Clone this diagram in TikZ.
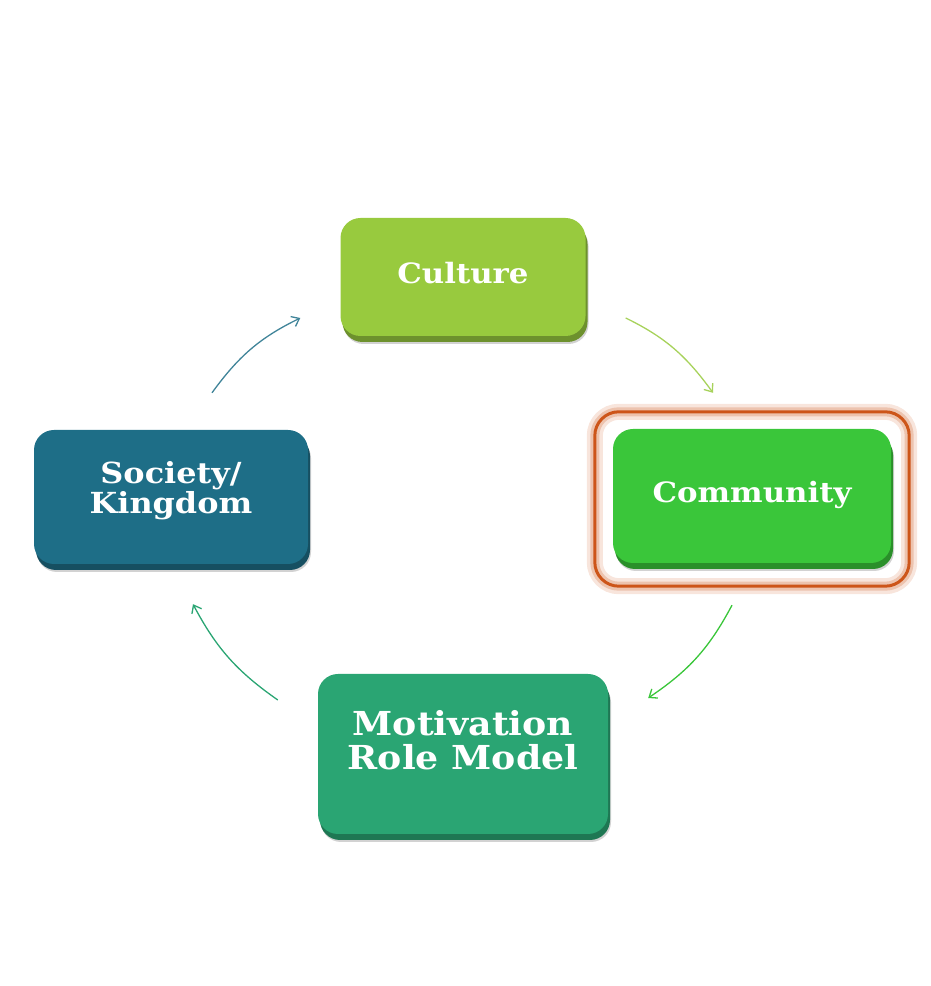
\documentclass[tikz,border=0pt]{standalone}
\usepackage{fontspec}
\setmainfont{DejaVu Serif}[FakeStretch=1.1]
\usepackage{xcolor}
\usepackage{tikz}
\usetikzlibrary{arrows.meta, positioning, fit, shadows, backgrounds}

\definecolor{culturegreen}{RGB}{152,202,62}
\definecolor{communitygreen}{RGB}{58,198,58}
\definecolor{societyteal}{RGB}{30,110,135}
\definecolor{motivgreen}{RGB}{42,165,115}
\definecolor{hiorange}{RGB}{205,85,25}

\begin{document}
\begin{tikzpicture}[
    x=1pt, y=1pt,
    card/.style={rectangle, rounded corners=20pt, fill=#1, text=white, align=center,
        font=\bfseries, inner sep=0pt,
        drop shadow={shadow xshift=3pt, shadow yshift=-8pt, fill=black!35, opacity=.5},
        drop shadow={shadow xshift=2pt, shadow yshift=-6pt, fill=#1!72!black, opacity=1}},
    hilite/.style={rectangle, rounded corners=24pt, draw=hiorange, line width=3pt,
        preaction={draw=hiorange!15, line width=16pt},
        preaction={draw=hiorange!35, line width=9pt}},
    flow/.style={-{Straight Barb[length=7pt, width=11pt]}, line width=1.3pt},
]
\useasboundingbox (0,0) rectangle (930,986);

% Cards
\node[card=culturegreen, minimum width=245pt, minimum height=118pt,
    font=\bfseries\fontsize{28}{30}\selectfont] (culture) at (463,709) {Culture\\[-22pt]};
\node[card=communitygreen, minimum width=278pt, minimum height=134pt,
    font=\bfseries\fontsize{28}{30}\selectfont] (community) at (752,490) {Community\\[-22pt]};
\node[card=societyteal, minimum width=274pt, minimum height=134pt,
    font=\bfseries\fontsize{29}{30}\selectfont] (society) at (171,489) {Society/\\Kingdom\\[-10pt]};
\node[card=motivgreen, minimum width=290pt, minimum height=160pt,
    font=\bfseries\fontsize{33}{34}\selectfont] (motivation) at (463,232) {Motivation\\Role Model\\[-6pt]};

% Highlight
\begin{scope}[on background layer]
\node[hilite, fit=(community), inner xsep=18pt, inner ysep=20pt, yshift=-3pt] (focus) {};
\end{scope}

% Arrows
\draw[flow, draw=societyteal!85!white]
    ([shift={(41,37)}]society.north) to[out=54, in=206] ([shift={(-40,-41)}]culture.west);
\draw[flow, draw=culturegreen!85!white]
    ([shift={(40,-41)}]culture.east) to[out=-26, in=126] ([shift={(-39,36)}]community.north);
\draw[flow, draw=communitygreen]
    ([shift={(-20,-42)}]community.south) to[out=-118, in=34] ([shift={(40,56)}]motivation.east);
\draw[flow, draw=motivgreen]
    ([shift={(-40,54)}]motivation.west) to[out=145, in=298] ([shift={(22,-40)}]society.south);

\end{tikzpicture}
\end{document}
